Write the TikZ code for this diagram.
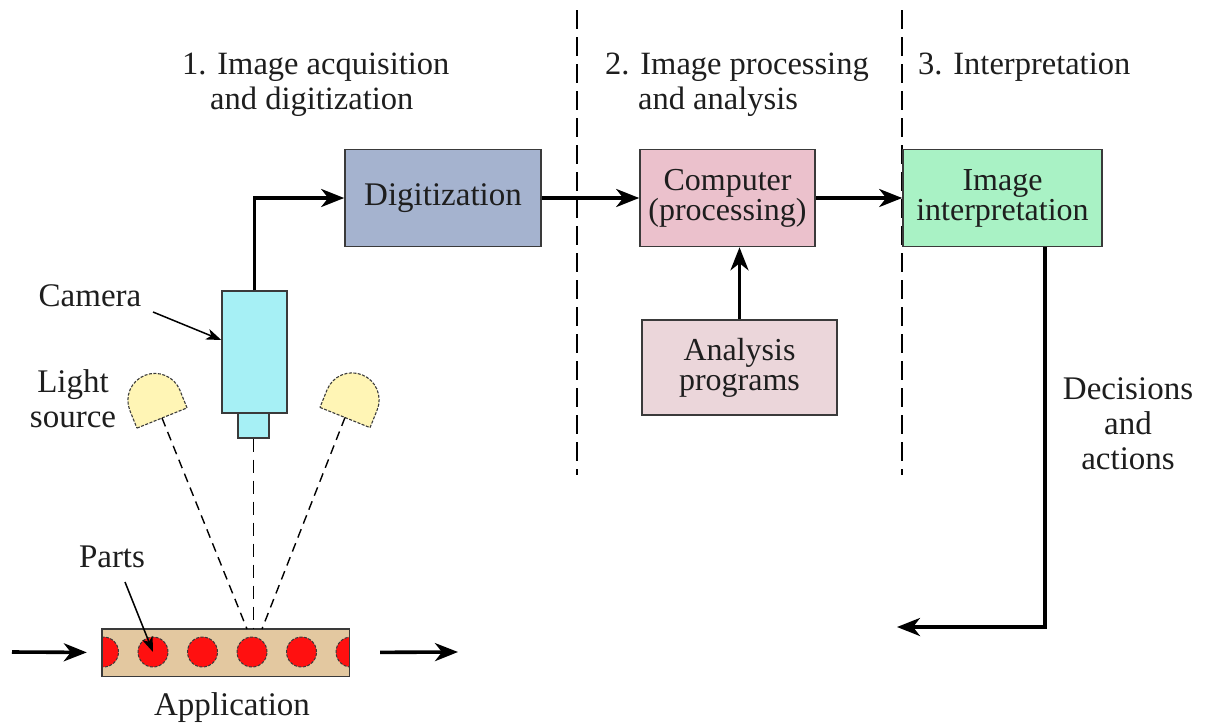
\documentclass[tikz,border=0pt]{standalone}
\usepackage{fontspec}
\setmainfont{Liberation Serif}
\usetikzlibrary{arrows.meta}

\definecolor{digfill}{HTML}{A5B3CF}
\definecolor{compfill}{HTML}{EBC1CC}
\definecolor{analfill}{HTML}{EBD6DA}
\definecolor{interpfill}{HTML}{A9F2C5}
\definecolor{camfill}{HTML}{A6F0F5}
\definecolor{lampfill}{HTML}{FFF5B5}
\definecolor{beltfill}{HTML}{E3C8A0}
\definecolor{partfill}{HTML}{FF1010}
\definecolor{boxline}{HTML}{3A3A3A}
\definecolor{inktext}{HTML}{1E1E1E}

\begin{document}
\begin{tikzpicture}[x=1pt,y=1pt,
  font=\fontsize{33}{35}\selectfont, text=inktext,
  box/.style={draw=boxline, line width=1.6pt, inner sep=0pt, align=center,
    font=\fontsize{32}{30}\selectfont},
  label/.style={inner sep=0pt, align=center},
  heading/.style={inner sep=0pt, align=left, anchor=north west,
    font=\fontsize{32.5}{35}\selectfont},
  conn/.style={line width=3.6pt, draw=black,
    -{Stealth[length=23pt,width=18pt,inset=7pt]}},
  pointer/.style={line width=1.5pt, draw=black,
    -{Stealth[length=15pt,width=11pt,inset=4pt]}},
  divider/.style={line width=1.3pt, dash pattern=on 19pt off 8pt},
  ray/.style={line width=1.4pt, dash pattern=on 9pt off 6pt},
  camray/.style={line width=1.4pt, dash pattern=on 13pt off 8pt},
  part/.style={circle, draw=boxline, line width=1pt, dash pattern=on 3pt off 1.5pt,
    fill=partfill, minimum size=30pt, inner sep=0pt},
  lampshape/.style={draw=boxline, line width=1.1pt, dash pattern=on 3pt off 1.5pt,
    fill=lampfill},
]
\useasboundingbox (0,0) rectangle (1207,-723);
\fill[white] (0,0) rectangle (1207,-723);

% stage dividers
\draw[divider] (577,-10) -- (577,-475);
\draw[divider] (902,-10) -- (902,-475);

% stage headings
\node[heading] (h1) at (182,-53)
  {1. Image acquisition\\\hspace*{28pt}and digitization};
\node[heading] (h2) at (605,-53)
  {2. Image processing\\\hspace*{33pt}and analysis};
\node[heading] (h3) at (918,-53) {3. Interpretation};

% processing blocks
\node[box, fill=digfill, minimum width=196pt, minimum height=97pt,
  font=\fontsize{33}{30}\selectfont] (dig) at (443,-198) {Digitization};
\node[box, fill=compfill, minimum width=175pt, minimum height=97pt] (comp)
  at (727.5,-198) {Computer\\(processing)};
\node[box, fill=interpfill, minimum width=199pt, minimum height=97pt] (interp)
  at (1002.5,-198) {Image\\interpretation};
\node[box, fill=analfill, minimum width=195pt, minimum height=95pt] (anal)
  at (739.5,-367.5) {Analysis\\programs};

% camera
\node[draw=boxline, line width=1.4pt, fill=camfill, inner sep=0pt,
  minimum width=65pt, minimum height=122pt] (cam) at (254.5,-352) {};
\node[draw=boxline, line width=1.4pt, fill=camfill, inner sep=0pt,
  minimum width=31pt, minimum height=25pt] (lens) at (253.5,-425.5) {};

% light sources (dome lamps)
\coordinate (lampL) at (162,-418);
\coordinate (lampR) at (345,-417.5);
\draw[lampshape, shift={(lampL)}, rotate=22]
  (-27,0) -- (27,0) -- (27,19) arc[start angle=0, end angle=180, radius=27] -- cycle;
\draw[lampshape, shift={(lampR)}, rotate=-22]
  (-27,0) -- (27,0) -- (27,19) arc[start angle=0, end angle=180, radius=27] -- cycle;

% conveyor with parts
\node[fill=beltfill, inner sep=0pt, minimum width=247pt, minimum height=47pt]
  (belt) at (225.5,-652.5) {};
\begin{scope}
  \clip (belt.south west) rectangle (belt.north east);
  \foreach \i/\x in {1/103.5, 2/153, 3/202.5, 4/252, 5/301.5, 6/351}
    \node[part] (p\i) at (\x,-652) {};
\end{scope}
\draw[boxline, line width=1.4pt] (belt.south west) rectangle (belt.north east);

% light and viewing rays
\coordinate (hitL) at (247,-629);
\coordinate (hitR) at (262,-629);
\draw[ray] (lampL) -- (hitL);
\draw[ray] (lampR) -- (hitR);
\draw[camray] (lens.south) -- (lens.south |- belt.north);

% labels
\node[label] (camlbl) at (90,-296) {Camera};
\node[label] (lightlbl) at (73,-399) {Light\\source};
\node[label] (partslbl) at (112,-557) {Parts};
\node[label, anchor=base] (applbl) at (232,-715) {Application};
\node[label] (declbl) at (1128,-424) {Decisions\\and\\actions};

\draw[pointer] (153,-312) -- ([yshift=12pt]cam.west);
\draw[pointer] (125,-582) -- (p2.center);

% signal flow
\draw[conn] (cam.north) |- (dig.west);
\draw[conn] (dig.east) -- (comp.west);
\draw[conn] (comp.east) -- (interp.west);
\draw[conn] (anal.north) -- (anal.north |- comp.south);
\coordinate (fb) at (897,-627);
\draw[conn] ([xshift=42.5pt]interp.south) |- (fb);

% parts flow along the conveyor
\coordinate (inL) at (12,-652);
\coordinate (outR) at (458,-652);
\draw[conn, shorten >=15pt] (inL) -- (belt.west);
\draw[conn, shorten <=31pt] (belt.east) -- (outR);
\end{tikzpicture}
\end{document}
